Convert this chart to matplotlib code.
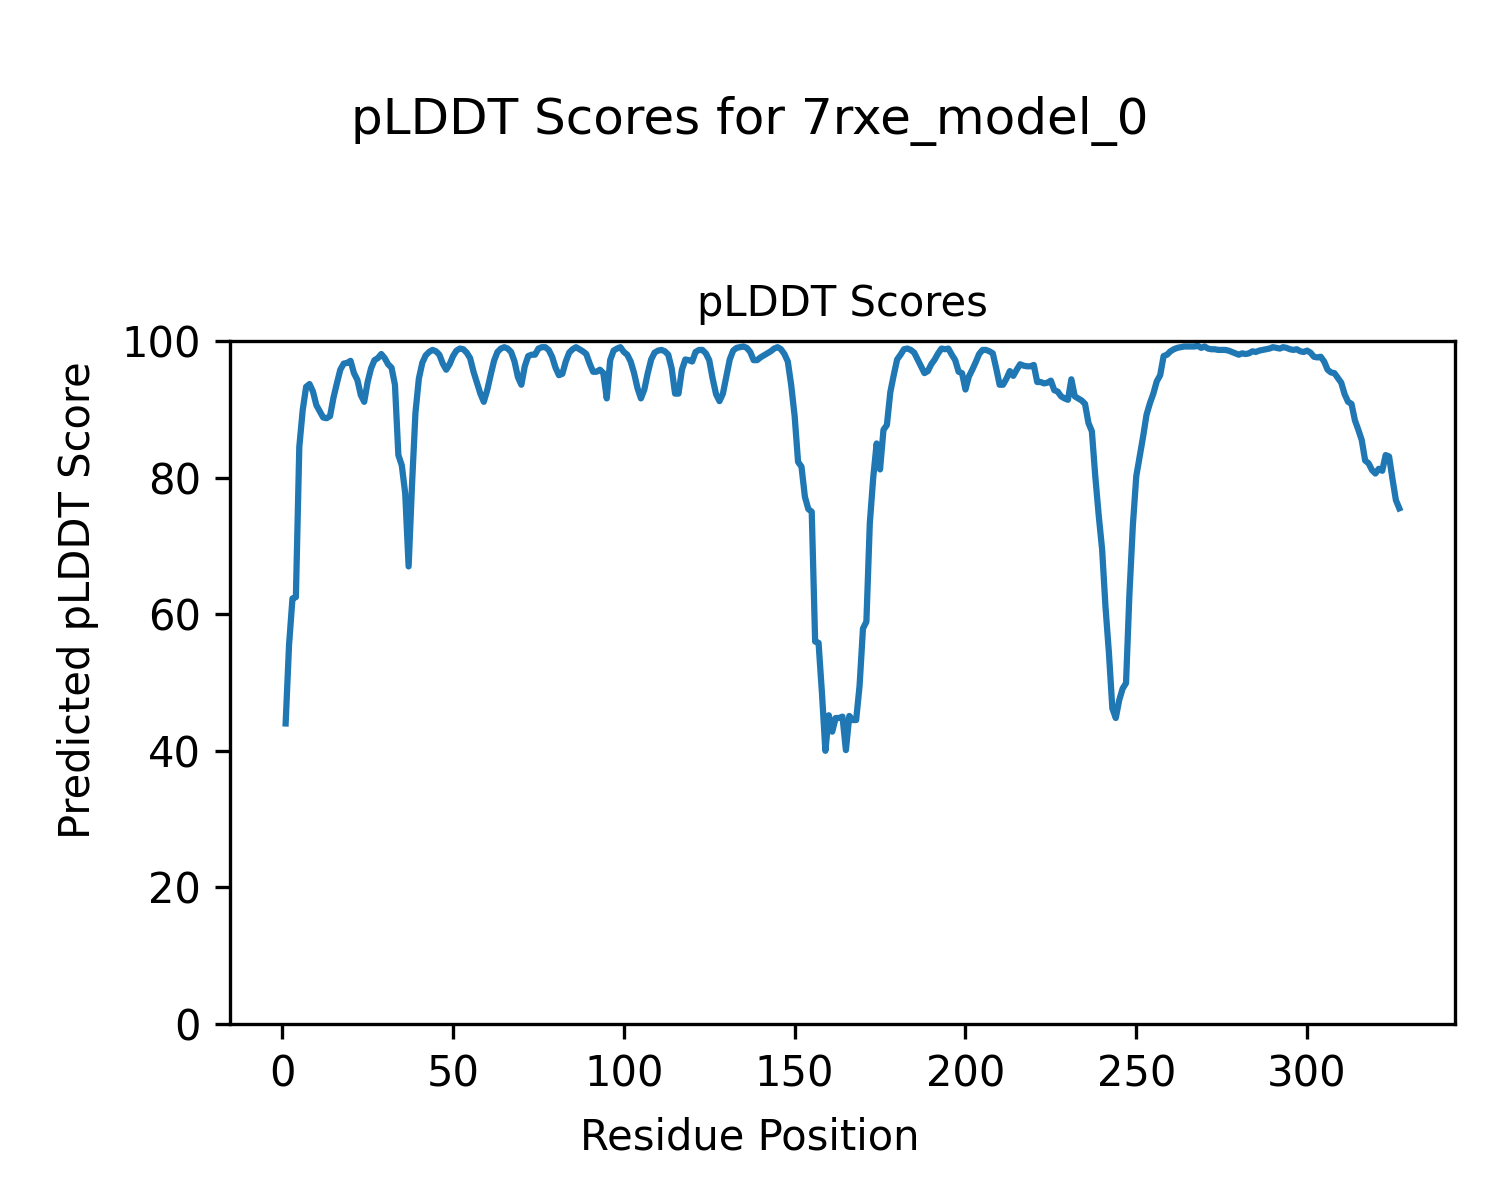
import matplotlib
matplotlib.use("Agg")
import matplotlib.pyplot as plt
import numpy as np

residues = list(range(1, 328))

plddt = [
    44.0, 55.5, 62.3, 62.5, 84.5, 89.9, 93.3, 93.7, 92.6, 90.6,   # 1-10
    89.7, 88.8, 88.7, 89.0, 91.7, 93.8, 95.8, 96.7, 96.8, 97.1,   # 11-20
    95.3, 94.3, 92.1, 91.1, 94.0, 96.0, 97.2, 97.5, 98.1, 97.5,   # 21-30
    96.6, 96.1, 93.6, 83.3, 81.8, 77.7, 67.0, 79.0, 89.5, 94.5,   # 31-40
    96.8, 97.9, 98.4, 98.7, 98.5, 98.0, 96.7, 95.8, 96.6, 97.8,   # 41-50
    98.6, 98.9, 98.8, 98.3, 97.5, 95.5, 93.9, 92.3, 91.1, 92.8,   # 51-60
    95.0, 97.1, 98.4, 98.9, 99.1, 98.9, 98.4, 97.0, 94.7, 93.6,   # 61-70
    96.3, 97.8, 98.0, 98.0, 98.9, 99.1, 99.1, 98.7, 97.7, 96.1,   # 71-80
    95.0, 95.2, 97.0, 98.3, 98.8, 99.1, 98.8, 98.5, 98.1, 96.7,   # 81-90
    95.5, 95.5, 95.8, 95.3, 91.6, 97.2, 98.6, 98.9, 99.1, 98.4,   # 91-100
    98.0, 97.0, 95.3, 93.1, 91.6, 92.9, 95.3, 97.3, 98.3, 98.6,   # 101-110
    98.7, 98.5, 98.0, 96.0, 92.3, 92.3, 95.8, 97.3, 97.2, 97.0,   # 111-120
    98.4, 98.7, 98.7, 98.2, 97.2, 94.5, 92.2, 91.2, 92.3, 94.8,   # 121-130
    97.3, 98.6, 99.0, 99.1, 99.2, 99.0, 98.4, 97.2, 97.2, 97.6,   # 131-140
    97.9, 98.2, 98.5, 98.9, 99.1, 98.8, 98.1, 97.0, 93.5, 89.0,   # 141-150
    82.3, 81.6, 77.2, 75.4, 75.0, 56.0, 55.8, 48.4, 40.0, 45.2,   # 151-160
    42.8, 44.8, 44.8, 45.0, 40.1, 45.1, 44.5, 44.5, 49.5, 57.9,   # 161-170
    58.9, 73.3, 80.0, 85.0, 81.2, 87.0, 87.7, 92.5, 95.0, 97.3,   # 171-180
    98.0, 98.8, 98.9, 98.7, 98.3, 97.3, 96.3, 95.3, 95.6, 96.6,   # 181-190
    97.3, 98.2, 98.9, 98.8, 98.9, 98.0, 97.2, 95.5, 95.3, 92.9,   # 191-200
    94.8, 95.8, 96.9, 98.1, 98.7, 98.7, 98.5, 98.2, 96.0, 93.6,   # 201-210
    93.6, 94.5, 95.6, 94.9, 95.8, 96.6, 96.4, 96.3, 96.3, 96.5,   # 211-220
    94.0, 94.0, 93.8, 93.9, 94.2, 92.8, 92.6, 91.9, 91.6, 91.4,   # 221-230
    94.4, 91.9, 91.6, 91.3, 90.8, 88.0, 86.8, 80.2, 74.5, 69.5,   # 231-240
    61.0, 54.3, 46.2, 44.8, 47.4, 49.1, 49.9, 63.0, 73.0, 80.2,   # 241-250
    83.1, 86.0, 89.2, 90.9, 92.3, 94.1, 95.0, 97.8, 98.0, 98.5,   # 251-260
    98.8, 99.0, 99.1, 99.2, 99.2, 99.2, 99.2, 99.3, 99.0, 99.2,   # 261-270
    98.9, 98.8, 98.8, 98.7, 98.7, 98.7, 98.6, 98.4, 98.2, 98.0,   # 271-280
    98.2, 98.1, 98.2, 98.5, 98.4, 98.6, 98.7, 98.8, 98.9, 99.1,   # 281-290
    99.0, 98.9, 99.1, 99.0, 98.8, 98.7, 98.8, 98.5, 98.4, 98.6,   # 291-300
    98.3, 97.7, 97.6, 97.7, 97.0, 95.8, 95.4, 95.3, 94.6, 93.9,   # 301-310
    92.2, 91.1, 90.8, 88.4, 87.0, 85.5, 82.5, 82.1, 81.1, 80.6,   # 311-320
    81.3, 81.0, 83.3, 83.1, 79.8, 76.7, 75.5,                     # 321-327
]

fig = plt.figure(figsize=(5, 4), dpi=300)
ax = fig.add_axes([0.1533, 0.1467, 0.97 - 0.1533, 0.7158 - 0.1467])
ax.plot(residues, plddt, color="#1f77b4", linewidth=1.5)
ax.set_ylim(0, 100)
ax.set_title("pLDDT Scores", fontsize=10)
fig.suptitle("pLDDT Scores for 7rxe_model_0", fontsize=12, y=0.92)
fig.text(0.5, 0.0517, "Residue Position", fontsize=10, ha="center", va="center")
fig.text(0.052, 0.5, "Predicted pLDDT Score", fontsize=10, ha="center",
         va="center", rotation=90)

fig.savefig("out.png", dpi=300)
